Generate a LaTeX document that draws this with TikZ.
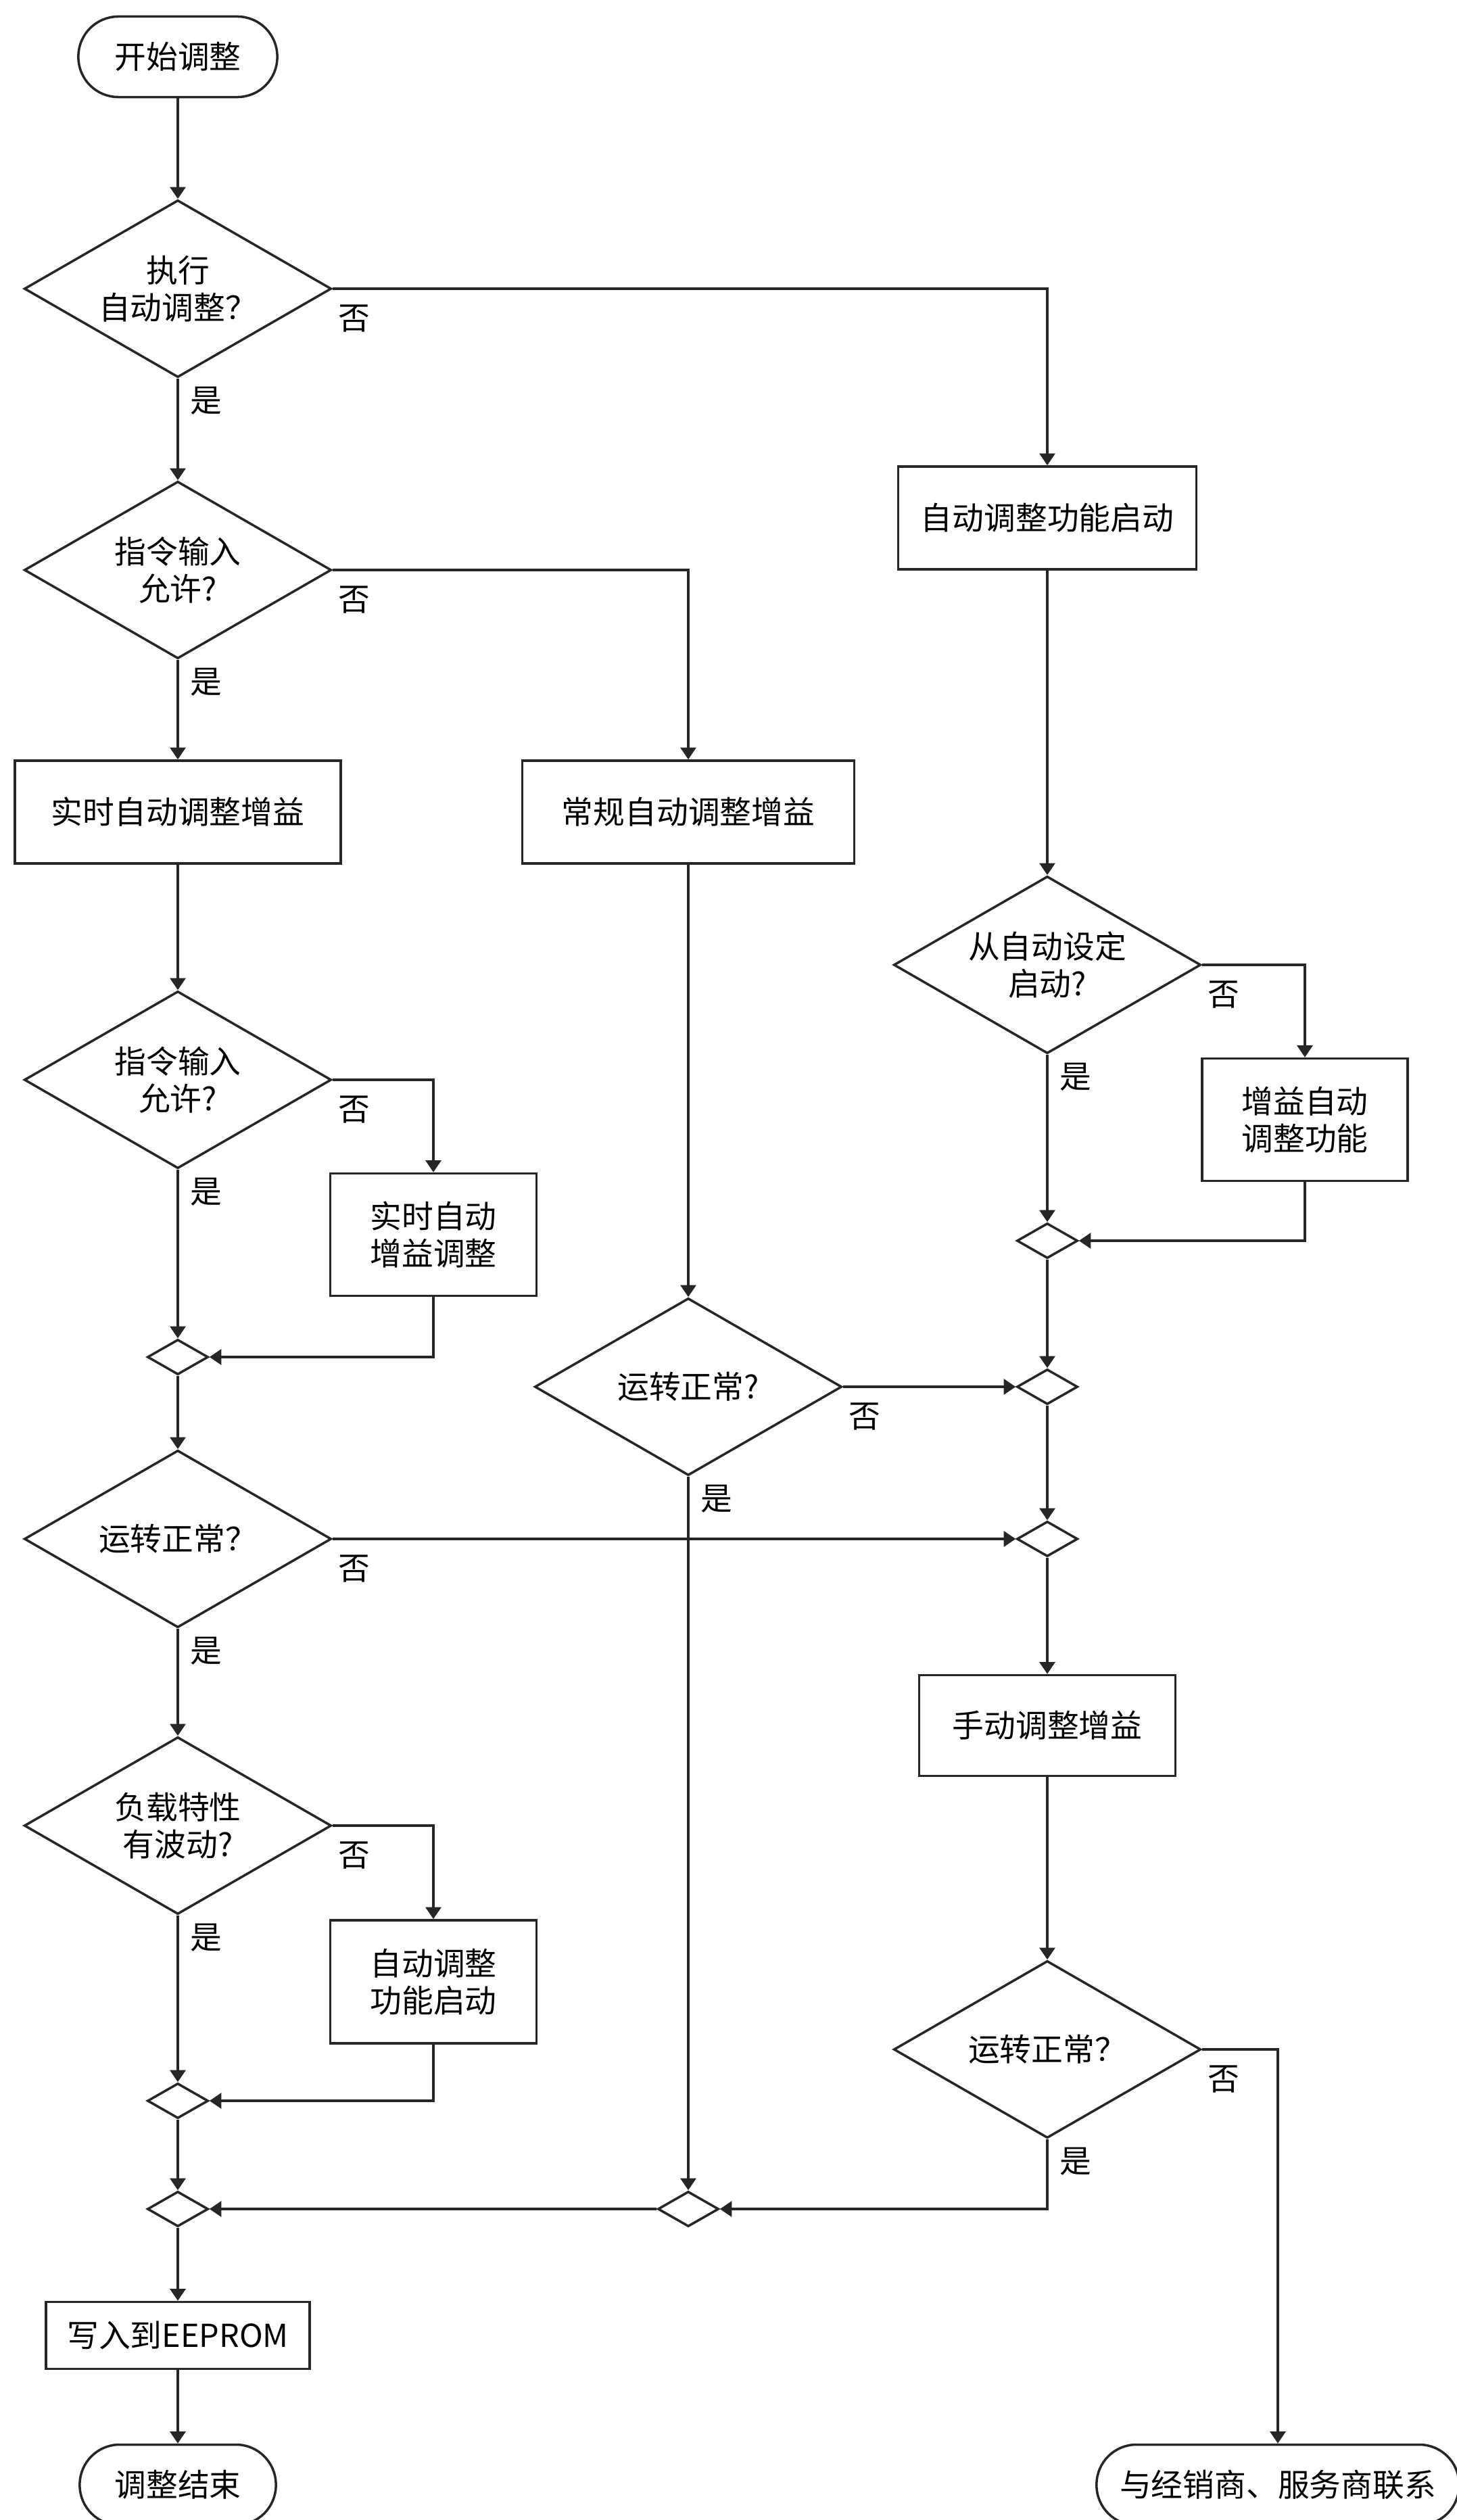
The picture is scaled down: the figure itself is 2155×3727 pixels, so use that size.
\documentclass[tikz,border=0pt]{standalone}
\usepackage{fontspec}
\setmainfont{Noto Sans CJK SC}
\usetikzlibrary{shapes.geometric,arrows.meta}

\tikzset{
  caja/.style={draw=black!85,line width=1pt,rectangle,align=center,inner sep=0pt},
  decision/.style={draw=black!85,line width=1pt,diamond,aspect=1.73,inner sep=0pt,align=center,
    minimum width=4.54cm,minimum height=2.62cm},
  union/.style={draw=black!85,line width=1pt,diamond,aspect=1.75,inner sep=0pt,
    minimum width=0.9cm,minimum height=0.52cm},
  terminal/.style={draw=black!85,line width=1pt,rectangle,rounded corners=0.59cm,inner sep=0pt,
    minimum height=1.19cm},
  flecha/.style={draw=black!85,line width=1pt,-{Triangle[width=6.5pt,length=5pt]}},
  si/.style={xshift=0.42cm,yshift=-0.33cm},
  no/.style={xshift=0.32cm,yshift=-0.44cm},
}

\begin{document}
\begin{tikzpicture}[x=0.01cm,y=-0.01cm,font=\fontsize{13.3}{15.5}\selectfont]
  % Columnas del diagrama: izquierda, auxiliar, centro, derecha, derecha auxiliar
  \def\xL{263} \def\xS{641} \def\xM{1018} \def\xR{1549} \def\xRS{1930} \def\xF{1890}
  \useasboundingbox (0,0) rectangle (2155,3727);
  \node[terminal,minimum width=2.94cm] (inicio) at (\xL,84) {开始调整};
  \node[decision] (auto) at (\xL,427) {执行\\自动调整？};
  \node[decision] (orden) at (\xL,843) {指令输入\\允许?};
  \node[caja,minimum width=4.41cm,minimum height=1.52cm] (funcion) at (\xR,766) {自动调整功能启动};
  \node[caja,minimum width=4.82cm,minimum height=1.52cm] (real) at (\xL,1201) {实时自动调整增益};
  \node[caja,minimum width=4.91cm,minimum height=1.52cm] (normal) at (\xM,1201) {常规自动调整增益};
  \node[decision] (ajuste) at (\xR,1427) {从自动设定\\启动?};
  \node[caja,minimum width=3.04cm,minimum height=1.81cm] (ganancia) at (\xRS,1656) {增益自动\\调整功能};
  \node[decision] (orden2) at (\xL,1597) {指令输入\\允许?};
  \node[caja,minimum width=3.05cm,minimum height=1.81cm] (realg) at (\xS,1826) {实时自动\\增益调整};
  \node[union] (uA) at (\xL,2007) {};
  \node[union] (uB) at (\xR,1835) {};
  \node[decision] (normalok) at (\xM,2051) {运转正常?};
  \node[union] (uC) at (\xR,2051) {};
  \node[decision] (realok) at (\xL,2276) {运转正常？};
  \node[union] (uD) at (\xR,2276) {};
  \node[caja,minimum width=3.79cm,minimum height=1.49cm] (manual) at (\xR,2552) {手动调整增益};
  \node[decision] (carga) at (\xL,2700) {负载特性\\有波动?};
  \node[caja,minimum width=3.05cm,minimum height=1.82cm] (funcion2) at (\xS,2931) {自动调整\\功能启动};
  \node[decision] (manualok) at (\xR,3031) {运转正常？};
  \node[union] (uE) at (\xL,3107) {};
  \node[union] (uF) at (\xL,3267) {};
  \node[union] (uG) at (\xM,3267) {};
  \node[caja,minimum width=3.90cm,minimum height=0.99cm] (eeprom) at (\xL,3454) {写入到EEPROM};
  \node[terminal,minimum width=2.90cm] (fin) at (\xL,3675) {调整结束};
  \node[terminal,minimum width=5.36cm] (contacto) at (\xF,3675) {与经销商、服务商联系};

  \draw[flecha] (inicio) -- (auto);
  \draw[flecha] (auto.south) node[si] {是} -- (orden.north);
  \draw[flecha] (auto.east) node[no] {否} -| (funcion.north);
  \draw[flecha] (orden.south) node[si] {是} -- (real.north);
  \draw[flecha] (orden.east) node[no] {否} -| (normal.north);
  \draw[flecha] (funcion) -- (ajuste);
  \draw[flecha] (ajuste.east) node[no] {否} -| (ganancia.north);
  \draw[flecha] (ajuste.south) node[si] {是} -- (uB.north);
  \draw[flecha] (ganancia.south) |- (uB.east);
  \draw[flecha] (real) -- (orden2);
  \draw[flecha] (orden2.east) node[no] {否} -| (realg.north);
  \draw[flecha] (orden2.south) node[si] {是} -- (uA.north);
  \draw[flecha] (realg.south) |- (uA.east);
  \draw[flecha] (uA) -- (realok);
  \draw[flecha] (normal) -- (normalok);
  \draw[flecha] (normalok.east) node[no] {否} -- (uC.west);
  \draw[flecha] (normalok.south) node[si] {是} -- (uG.north);
  \draw[flecha] (uB) -- (uC);
  \draw[flecha] (uC) -- (uD);
  \draw[flecha] (realok.east) node[no] {否} -- (uD.west);
  \draw[flecha] (realok.south) node[si] {是} -- (carga.north);
  \draw[flecha] (uD) -- (manual);
  \draw[flecha] (manual) -- (manualok);
  \draw[flecha] (carga.east) node[no] {否} -| (funcion2.north);
  \draw[flecha] (carga.south) node[si] {是} -- (uE.north);
  \draw[flecha] (funcion2.south) |- (uE.east);
  \draw[flecha] (uE) -- (uF);
  \draw[flecha] (uG) -- (uF);
  \draw[flecha] (manualok.south) node[si] {是} |- (uG.east);
  \draw[flecha] (manualok.east) node[no] {否} -| (contacto.north);
  \draw[flecha] (uF) -- (eeprom);
  \draw[flecha] (eeprom) -- (fin);
\end{tikzpicture}
\end{document}
